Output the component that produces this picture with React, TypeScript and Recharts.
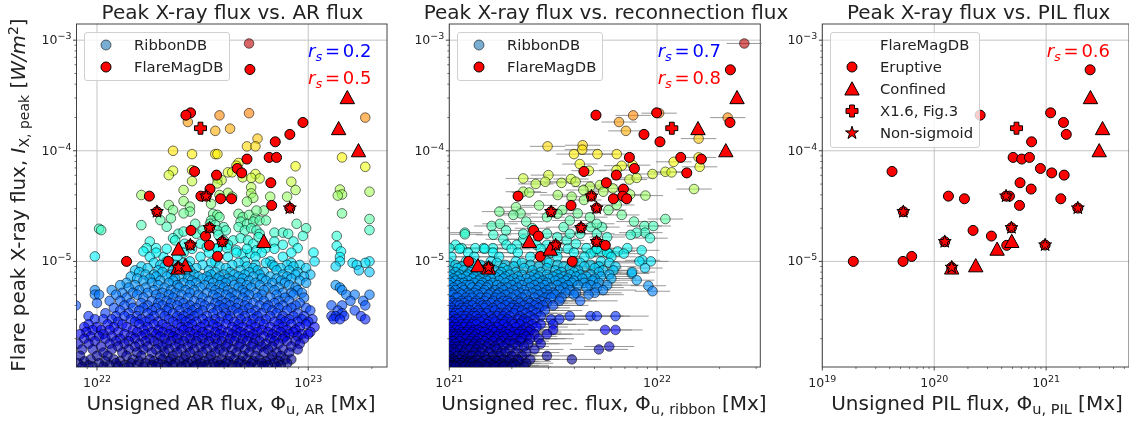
import React from "react";
import { ScatterChart, Scatter, XAxis, YAxis, CartesianGrid, ErrorBar, Legend } from "recharts";

// ---- Values. Fluxes are log10 values; rows are GOES-class rows.
type Pair = [number, number];
type Row = [number, number[]]; // [peak flux in 1e-6 W/m2, log10-flux offsets in hundredths]
type RibRow = [number, number, number[]]; // [peak in 1e-6, half error width in dex, offsets]

const arUpper: Pair[] = [
  [22.72,-3.03],[22.72,-3.66],[22.58,-3.68],[22.43,-3.74],[22.56,-3.82],[22.63,-3.80],[22.76,-3.89],[22.71,-3.96],[22.75,-3.96],[22.36,-4.0],[22.45,-4.03],[22.56,-4.03],[22.57,-4.03],[23.27,-3.70],[23.16,-4.06],[23.27,-4.145],[22.94,-4.14],[22.67,-4.11],[22.66,-4.135],[22.36,-4.18],[22.34,-4.22],[22.45,-4.175],[22.62,-4.195],[22.64,-4.195],[22.75,-4.21],[22.77,-4.25],[22.69,-4.24],[22.73,-4.245],[22.57,-4.25],[22.59,-4.265],[22.57,-4.295],[22.45,-4.275],[22.41,-4.355],[22.92,-4.28],[22.94,-4.355],[22.73,-4.33],[22.73,-4.385],[22.74,-4.425],[22.82,-4.415],[22.90,-4.415],[22.62,-4.38],[22.64,-4.415],[22.58,-4.40],[22.21,-4.40],[22.54,-4.48],[22.41,-4.455],[22.71,-4.46],[23.15,-4.35],[23.16,-4.395],[23.14,-4.405],[23.29,-4.37],[23.16,-4.566],[23.29,-4.617],[23.29,-4.717],[22.34,-4.49],[22.44,-4.505],[22.36,-4.536],[22.44,-4.55],[22.41,-4.566],[22.35,-4.61],[22.30,-4.627],[22.33,-4.687],[22.21,-4.672],[22.01,-4.705],[22.02,-4.717],[21.99,-4.955],
];
const arMiddle: Pair[] = [
  [22.55,-4.57],[22.57,-4.58],[22.54,-4.63],[22.58,-4.60],[22.535,-4.66],[22.56,-4.67],[22.60,-4.69],[22.57,-4.72],[22.61,-4.72],[22.67,-4.57],[22.69,-4.60],[22.72,-4.58],[22.75,-4.61],[22.79,-4.54],[22.755,-4.54],[22.68,-4.64],[22.71,-4.66],[22.74,-4.64],[22.77,-4.63],[22.80,-4.63],[22.67,-4.69],[22.70,-4.72],[22.73,-4.70],[22.755,-4.72],[22.77,-4.75],[22.84,-4.74],[22.88,-4.74],[22.905,-4.75],[22.945,-4.66],[22.99,-4.70],[22.975,-4.77],[22.93,-4.82],[22.95,-4.88],[22.84,-4.82],[22.88,-4.85],[22.385,-4.75],[22.41,-4.73],[22.36,-4.79],[22.37,-4.81],[22.415,-4.84],[22.47,-4.75],[22.465,-4.66],[22.50,-4.72],[22.49,-4.84],[22.52,-4.87],[22.25,-4.82],[22.235,-4.88],[22.22,-4.91],[22.28,-4.88],[22.315,-4.96],[22.645,-4.81],[22.68,-4.79],[22.715,-4.81],[22.74,-4.84],[22.765,-4.78],[22.80,-4.88],[22.62,-4.85],[22.57,-4.88],[22.60,-4.81],[22.575,-4.76],[22.615,-4.88],[22.66,-4.90],[22.69,-4.93],[22.725,-4.93],[22.755,-4.90],[23.135,-4.77],[23.135,-4.86],[23.155,-4.91],[23.15,-4.96],[23.025,-4.92],[23.03,-5.0],
];
const arRowsCyan: Row[] = [
  [13,[33,45,57,71,84]],
  [12,[28,41,53,66,78,92]],
  [11,[25,38,49,62,75,88]],
  [10,[33,44,56,70,82,115,129]],
  [9.7,[27,41,54,67,80,92,121,127]],
  [9.3,[30,37,50,64,75,83,90,96,123]],
  [9,[21,32,43,58,71,84,93,113]],
  [8.7,[24,47,61,74,87,99]],
  [8.3,[18,29,36,44,53,68,76,85,91,124]],
  [8,[20,31,42,56,63,72,79,95,129]],
];
const arRowsAzure: Row[] = [
  [7.6,[23,27,35,46,54,60,65,70,77,88,94,101]],
  [7.3,[16,28,33,40,48,52,58,67,74,82,90,98]],
  [7,[19,25,37,43,50,57,62,69,78,85,92]],
  [6.7,[22,30,36,45,53,59,64,72,80,87,96]],
  [6.4,[14,26,34,41,47,55,61,68,75,83,89,99]],
  [6.1,[11,18,29,38,44,51,58,65,71,77,91,113]],
  [5.8,[15,23,32,39,49,54,60,67,73,81,86,94,115]],
  [5.5,[-1,7,20,27,35,42,46,56,62,69,79,84,95,116]],
  [5.2,[12,17,24,31,37,44,52,58,64,70,75,88,92,97]],
  [5,[-1,1,9,19,28,34,40,48,55,61,66,72,78,85,93,118,122,129]],
  [4.7,[14,22,30,36,43,50,57,63,69,76,82,89,98]],
  [4.4,[6,11,26,33,39,46,53,59,65,71,79,86,91,120,126]],
  [4.2,[0,16,21,29,35,41,49,56,61,67,74,84,96]],
  [4,[-10,13,24,31,38,44,51,58,63,70,77,81,88,94,111,116,127]],
];
const arRowsBlue: Row[] = [
  [3.8,[8,17,22,28,34,42,47,54,60,66,72,80,86,92,99]],
  [3.6,[11,20,26,33,39,45,50,57,64,69,75,83,90,101,114,122]],
  [3.4,[4,15,24,30,36,43,48,55,61,67,73,78,85,95,116]],
  [3.2,[-4,9,13,19,27,32,38,41,46,52,59,63,70,76,82,88,93,98,111,113,117,125]],
  [3,[-1,3,7,16,21,25,34,40,44,50,56,62,68,74,80,87,91,97,102,112,115,127]],
  [2.85,[10,18,23,29,36,42,47,53,58,65,71,77,84,89,95,100]],
  [2.7,[-4,5,12,20,27,31,38,45,51,55,61,67,73,79,86,92,99]],
  [2.55,[-6,0,8,14,24,33,40,43,49,57,64,69,75,82,88,96,103]],
  [2.4,[-2,2,6,17,22,29,35,41,47,53,59,66,72,78,85,90,94]],
  [2.3,[-5,10,19,26,31,37,44,50,56,62,68,76,81,87,93,101]],
  [2.2,[-8,3,13,23,28,34,39,46,52,58,64,70,74,83,91,97,100]],
];
const arRowsNavy: Row[] = [
  [2.1,[-3,1,7,16,21,30,36,42,48,54,60,66,72,79,85,89,95]],
  [2,[-6,4,11,18,25,32,38,44,50,56,63,69,75,82,88,98]],
  [1.9,[-1,9,15,23,27,35,41,47,53,59,65,71,77,84,90,94]],
  [1.8,[-9,-4,6,13,20,29,33,39,45,51,57,62,68,74,80,86,96]],
  [1.7,[2,10,18,24,31,37,43,49,55,61,67,73,78,83,92]],
  [1.6,[-7,-2,7,15,22,28,34,40,46,52,58,64,70,76,81,88,95]],
  [1.5,[3,12,19,26,32,38,44,50,56,60,66,72,79,85,91]],
  [1.4,[-8,0,5,14,21,30,36,42,48,54,63,69,75,83,87]],
  [1.3,[-3,8,17,25,31,35,41,47,53,59,65,71,77,82,89,92]],
  [1.25,[-6,4,11,20,27,34,39,45,51,57,62,68,74,80,86]],
  [1.2,[-9,1,9,16,23,29,37,43,49,55,61,67,73,78,84,90]],
  [1.15,[-4,6,13,19,26,32,36,42,47,52,58,64,70,76,81,87]],
  [1.12,[-7,-2,3,10,15,22,28,33,40,46,50,56,60,66,72,79,85]],
];

const ribUpper: Pair[] = [
  [22.42,-3.03],[22.34,-3.70],[21.885,-3.68],[22.01,-3.66],[21.817,-3.74],[21.85,-3.82],[22.20,-3.89],[21.473,-3.96],[21.642,-3.95],[21.64,-3.99],[21.60,-4.03],[21.713,-4.03],[21.806,-4.03],[22.20,-4.06],[22.08,-4.10],[21.628,-4.12],[21.672,-4.18],[21.83,-4.135],[21.805,-4.175],[21.883,-4.13],[22.205,-4.145],[21.978,-4.21],[22.04,-4.19],[22.07,-4.195],[21.477,-4.22],[21.356,-4.25],[21.462,-4.28],[21.416,-4.30],[21.54,-4.29],[21.586,-4.255],[21.608,-4.28],[21.867,-4.26],[21.902,-4.245],[21.677,-4.325],[21.725,-4.31],[21.787,-4.34],[22.178,-4.346],[21.356,-4.37],[21.385,-4.377],[21.522,-4.40],[21.589,-4.415],[21.645,-4.355],[21.648,-4.445],[21.741,-4.37],[21.87,-4.395],[21.944,-4.405],
];
const ribMiddle: Pair[] = [
  [21.432,-4.494],[21.321,-4.51],[21.241,-4.55],[21.343,-4.566],[21.308,-4.58],[21.806,-4.49],[21.766,-4.536],[21.544,-4.536],[21.618,-4.566],[21.677,-4.60],[21.83,-4.58],[22.04,-4.617],[21.889,-4.64],[21.939,-4.68],[21.982,-4.68],[21.942,-4.74],[21.902,-4.74],[21.873,-4.76],[21.966,-4.79],[21.857,-4.88],[21.926,-4.90],[21.93,-4.99],[21.97,-5.0],[21.915,-5.0],[21.942,-5.06],[21.878,-5.11],[21.902,-5.17],[21.958,-5.22],[21.978,-5.27],[21.075,-4.74],[21.075,-4.755],[21.204,-4.68],[21.244,-4.66],[21.273,-4.72],[21.212,-4.76],
  [21.26,-4.80],[21.356,-4.80],[21.37,-4.64],[21.40,-4.70],[21.47,-4.60],[21.52,-4.57],[21.55,-4.69],[21.58,-4.63],[21.47,-4.75],[21.52,-4.78],[21.565,-4.81],[21.63,-4.75],[21.68,-4.69],[21.71,-4.75],[21.735,-4.69],[21.76,-4.78],[21.71,-4.66],[21.58,-4.75],[21.356,-4.75],[21.42,-4.85],[21.61,-4.84],[21.66,-4.88],[21.70,-4.91],[21.77,-4.93],[21.81,-4.91],[21.84,-4.93],[21.73,-4.91],[21.68,-4.93],[21.52,-4.90],[21.47,-4.85],[21.325,-4.85],[21.275,-4.85],[21.21,-4.88],[21.165,-4.88],[21.125,-4.88],[21.03,-4.85],[21.0,-4.88],[21.06,-4.88],
];
const ribRowsCyan: RibRow[] = [
  [13,0.09,[5,17,30,44,57,71]],
  [12,0.11,[9,21,33,49,60,76]],
  [11,0.12,[1,12,24,39,52,65,78]],
  [10,0.1,[8,20,32,47,60,73]],
  [9.7,0.12,[0,11,23,35,48,63,77]],
  [9.3,0.11,[3,15,27,39,52,68]],
  [9,0.1,[6,19,31,43,55,65,72,80]],
  [8.7,0.13,[4,14,26,36,47,58,70]],
  [8.3,0.12,[0,7,11,22,28,40,51,62,74,79]],
  [8,0.11,[3,10,15,25,32,44,54,60,72,88]],
];
const ribRowsAzure: RibRow[] = [
  [7.6,0.12,[1,5,9,13,19,24,29,35,41,47,52,58,63,68,77]],
  [7.3,0.14,[0,4,8,12,17,22,27,33,39,43,50,55,61,66,73]],
  [7,0.12,[2,6,11,15,20,26,31,37,42,48,53,57,64,70,78]],
  [6.7,0.13,[0,3,9,14,18,24,29,34,40,45,51,56,60,69]],
  [6.4,0.14,[1,5,7,12,16,21,27,32,38,43,47,54,59,65,72]],
  [6.1,0.15,[0,4,8,10,15,19,23,30,35,41,46,52,57,62,68,76]],
  [5.8,0.13,[2,6,11,14,18,25,28,33,39,44,49,55,66,71]],
  [5.5,0.16,[0,3,7,13,17,22,26,31,36,42,47,53,58,74]],
  [5.2,0.13,[1,5,9,12,16,20,24,29,34,40,45,50,56,61,70]],
  [5,0.17,[0,2,6,10,14,19,23,27,32,37,43,48,51,60,67]],
  [4.7,0.14,[3,4,8,11,15,18,22,25,30,35,41,46,49,54]],
  [4.4,0.18,[0,1,6,9,13,17,21,26,28,33,38,44,53,63]],
  [4.2,0.15,[2,4,7,12,15,20,24,29,34,39,42,47]],
  [4,0.17,[0,3,5,9,11,16,18,23,27,31,36,41,45,50]],
];
const ribRowsBlue: RibRow[] = [
  [3.8,0.15,[1,6,8,13,17,21,25,30,33,38,43]],
  [3.6,0.18,[0,2,4,7,10,14,19,22,28,32,35,40,46]],
  [3.4,0.15,[1,3,5,9,12,15,18,24,27,31,37,42]],
  [3.2,0.16,[0,2,6,8,11,13,16,20,23,26,29,34,39,44,58,68,71,80]],
  [3,0.18,[0,3,4,7,10,14,17,21,25,28,33,36,41,49,53]],
  [2.85,0.14,[1,2,5,9,12,15,19,22,27,30,35,38]],
  [2.7,0.17,[0,3,6,8,11,13,18,24,26,31,34,40,44,50]],
  [2.55,0.15,[1,2,4,7,10,16,20,23,28,32,37,42]],
  [2.4,0.13,[0,3,5,9,12,14,18,21,25,29,35,39,50,75,80]],
  [2.3,0.16,[1,6,8,11,15,17,22,27,31,34,38]],
  [2.2,0.18,[0,2,4,7,10,13,19,24,28,33,36,41,47]],
];
const ribRowsNavy: RibRow[] = [
  [2.1,0.15,[1,3,5,9,12,16,20,23,26,30,37]],
  [2,0.17,[0,4,6,8,11,14,18,22,27,32,35,39,43]],
  [1.9,0.14,[1,2,5,10,13,17,21,25,29,34]],
  [1.8,0.15,[0,3,7,9,12,15,19,24,28,31,38,44]],
  [1.7,0.12,[1,4,6,11,14,18,22,26,33,36,77]],
  [1.6,0.14,[0,2,5,8,10,13,16,20,23,29,41,72]],
  [1.5,0.16,[1,3,7,12,15,19,25,27,32,37]],
  [1.4,0.13,[0,4,6,9,11,14,17,21,24,30,35,47]],
  [1.3,0.14,[1,2,5,8,13,18,22,26,29,33,39,59]],
  [1.25,0.15,[0,3,7,10,12,16,20,23,28,34]],
  [1.2,0.13,[1,4,6,9,11,15,19,25,31,37]],
  [1.15,0.16,[0,2,5,8,13,17,21,24,27,32]],
  [1.12,0.13,[1,3,7,10,12,14,18,22,26,30,36]],
];
const ribUpperHalfWidth = 0.085;
const ribFluxMin = 1e21;

// FlareMagDB
const arEruptive: Pair[] = [[22.724,-3.265],[22.443,-3.657],[22.421,-3.678],[22.975,-3.744],[22.913,-3.852],[22.844,-3.919],[22.71,-4.075],[22.815,-4.06],[22.85,-4.06],[22.664,-4.16],[22.685,-4.20],[22.462,-4.187],[22.566,-4.22],[22.823,-4.289],[22.535,-4.346],[22.248,-4.41],[22.492,-4.41],[22.585,-4.434],[22.637,-4.434],[22.827,-4.494],[22.445,-4.72],[22.514,-4.771],[22.532,-4.855],[22.571,-4.955],[22.338,-5],[22.14,-5]];
const arStars: Pair[] = [[22.284,-4.551],[22.517,-4.41],[22.913,-4.518],[22.533,-4.696],[22.442,-4.852],[22.593,-4.822],[22.385,-5.054]];
const arConfined: Pair[] = [[23.185,-3.52],[23.144,-3.80],[23.238,-4.0],[22.79,-4.82],[22.386,-4.889],[22.418,-5.04],[22.383,-5.06]];
const arCase: Pair[] = [[22.49,-3.796]];

const ribEruptive: Pair[] = [[22.353,-3.268],[21.706,-3.678],[21.998,-3.657],[22.351,-3.744],[21.937,-3.852],[22.014,-3.919],[22.114,-4.06],[22.213,-4.075],[21.867,-4.06],[21.891,-4.16],[21.648,-4.187],[21.804,-4.22],[22.143,-4.20],[21.756,-4.289],[21.838,-4.346],[21.79,-4.434],[21.835,-4.41],[21.854,-4.434],[21.331,-4.41],[21.586,-4.494],[21.406,-4.72],[21.429,-4.771],[21.751,-4.855],[21.438,-4.955],[21.093,-5],[21.592,-5]];
const ribStars: Pair[] = [[21.49,-4.551],[21.684,-4.41],[21.709,-4.518],[21.634,-4.696],[21.512,-4.852],[21.709,-4.822],[21.189,-5.054]];
const ribConfined: Pair[] = [[22.385,-3.52],[22.197,-3.80],[22.331,-4.0],[21.385,-4.82],[21.486,-4.89],[21.138,-5.04],[21.189,-5.06]];
const ribCase: Pair[] = [[22.071,-3.796]];

const pilEruptive: Pair[] = [[21.393,-3.268],[20.41,-3.678],[21.04,-3.657],[21.155,-3.744],[21.18,-3.852],[20.87,-3.919],[20.705,-4.06],[20.782,-4.075],[20.851,-4.06],[20.949,-4.16],[21.05,-4.20],[21.161,-4.22],[19.623,-4.187],[20.767,-4.289],[20.866,-4.346],[20.127,-4.41],[20.27,-4.434],[20.672,-4.41],[20.762,-4.494],[21.131,-4.434],[20.347,-4.72],[20.511,-4.771],[20.648,-4.855],[19.799,-4.955],[19.721,-5],[19.277,-5]];
const pilStars: Pair[] = [[19.724,-4.551],[20.642,-4.41],[21.283,-4.518],[20.69,-4.696],[20.991,-4.852],[20.094,-4.822],[20.156,-5.054]];
const pilConfined: Pair[] = [[21.396,-3.52],[21.504,-3.80],[21.474,-4.0],[20.693,-4.82],[20.562,-4.89],[20.371,-5.04],[20.156,-5.06]];
const pilCase: Pair[] = [[20.735,-3.796]];

const yMajor = [1e-3, 1e-4, 1e-5];
const yMinor = [2e-6,3e-6,4e-6,5e-6,6e-6,7e-6,8e-6,9e-6,2e-5,3e-5,4e-5,5e-5,6e-5,7e-5,8e-5,9e-5,2e-4,3e-4,4e-4,5e-4,6e-4,7e-4,8e-4,9e-4];
const arMajor = [1e22, 1e23];
const arMinor = [9e21,2e22,3e22,4e22,5e22,6e22,7e22,8e22,9e22,2e23];
const ribMajor = [1e21, 1e22];
const ribMinor = [2e21,3e21,4e21,5e21,6e21,7e21,8e21,9e21,2e22,3e22];
const pilMajor = [1e19, 1e20, 1e21];
const pilMinor = [2e19,3e19,4e19,5e19,6e19,7e19,8e19,9e19,2e20,3e20,4e20,5e20,6e20,7e20,8e20,9e20,2e21,3e21,4e21,5e21];

// ---- Tables built from the arrays
const toPoints = (p: Pair[]) => p.map(([a, b]) => ({ flux: 10 ** a, peak: 10 ** b }));
const rowPoints = (rows: Row[], base: number) =>
  rows.flatMap(([y, xs]) => xs.map((o) => ({ flux: 10 ** (base + o / 100), peak: y * 1e-6 })));
const withErr = (flux: number, peak: number, e: number) => ({
  flux, peak, xErr: [Math.min(flux - flux * 10 ** -e, flux - ribFluxMin), flux * 10 ** e - flux],
});
const arAll = [...toPoints(arUpper), ...toPoints(arMiddle), ...rowPoints(arRowsCyan, 22), ...rowPoints(arRowsAzure, 22), ...rowPoints(arRowsBlue, 22), ...rowPoints(arRowsNavy, 22)];
const ribAll = [
  ...[...ribUpper, ...ribMiddle].map(([a, b]) => withErr(10 ** a, 10 ** b, ribUpperHalfWidth)),
  ...[...ribRowsCyan, ...ribRowsAzure, ...ribRowsBlue, ...ribRowsNavy].flatMap(([y, e, xs]) => xs.map((o) => withErr(10 ** (21 + o / 100), y * 1e-6, e))),
];

// ---- Drawing helpers
const clamp = (v: number) => Math.max(0, Math.min(1, v));
const jet = (v: number) => {
  const c = (k: number) => Math.round(255 * clamp(1.5 - Math.abs(4 * v - k)));
  return `rgb(${c(3)},${c(2)},${c(1)})`;
};
const peakColor = (peak: number) => {
  const d = Math.log10(peak) + 5;
  return jet(0.35 + (d >= 0 ? 0.3 : 0.37) * d);
};

const FONT = "'DejaVu Sans', sans-serif";
const NoMark = () => <g />;
const DbDot = (p: any) => (
  <circle cx={p.cx} cy={p.cy} r={4.8} fill={peakColor(p.payload.peak)} fillOpacity={0.6} stroke="#000" strokeOpacity={0.55} strokeWidth={1} />
);
const RedDot = (p: any) => <circle cx={p.cx} cy={p.cy} r={5} fill="#f00" stroke="#000" strokeWidth={1} />;
const RedTriangle = (p: any) => (
  <path d={`M${p.cx} ${p.cy - 7.2}L${p.cx + 7.2} ${p.cy + 6}L${p.cx - 7.2} ${p.cy + 6}Z`} fill="#f00" stroke="#000" strokeWidth={1} strokeLinejoin="miter" />
);
const RedPlus = (p: any) => {
  const a = 2.4, b = 6;
  const { cx: x, cy: y } = p;
  return (
    <path d={`M${x - a} ${y - b}H${x + a}V${y - a}H${x + b}V${y + a}H${x + a}V${y + b}H${x - a}V${y + a}H${x - b}V${y - a}H${x - a}Z`} fill="#f00" stroke="#000" strokeWidth={1} />
  );
};
const starPath = (x: number, y: number, R: number) => {
  let d = "";
  for (let i = 0; i < 10; i++) {
    const r = i % 2 ? R * 0.38 : R;
    const t = -Math.PI / 2 + (i * Math.PI) / 5;
    d += `${i ? "L" : "M"}${(x + r * Math.cos(t)).toFixed(2)} ${(y + r * Math.sin(t)).toFixed(2)}`;
  }
  return d + "Z";
};
const RedStar = (p: any) => <path d={starPath(p.cx, p.cy, 6.8)} fill="#f00" stroke="#000" strokeWidth={1} />;

const Sup = ({ value, x, y, anchor }: { value: number; x: number; y: number; anchor: "middle" | "end" }) => {
  const exp = Math.round(Math.log10(value));
  return (
    <text x={x} y={y} textAnchor={anchor} fontFamily={FONT} fontSize={12.5} fill="#222">
      10<tspan dy={-5} fontSize={9.5}>{exp < 0 ? `\u2212${-exp}` : exp}</tspan>
    </text>
  );
};
const isMajor = (v: number, majors: number[]) => majors.some((m) => Math.abs(m - v) / m < 1e-6);
const XTick = (majors: number[]) => (p: any) => {
  const major = isMajor(p.payload.value, majors);
  return (
    <g>
      <line x1={p.x} x2={p.x} y1={p.y} y2={p.y + (major ? 3.5 : 2)} stroke="#333" strokeWidth={major ? 0.9 : 0.7} />
      {major && <Sup value={p.payload.value} x={p.x} y={p.y + 20} anchor="middle" />}
    </g>
  );
};
const YTick = (p: any) => {
  const major = isMajor(p.payload.value, yMajor);
  return (
    <g>
      <line x1={p.x - (major ? 3.5 : 2)} x2={p.x} y1={p.y} y2={p.y} stroke="#333" strokeWidth={major ? 0.9 : 0.7} />
      {major && <Sup value={p.payload.value} x={p.x - 5} y={p.y + 4} anchor="end" />}
    </g>
  );
};

type LegendRow = { label: string; mark: React.ReactNode };
const legendMark = (Shape: any) => (
  <svg width={18} height={18} style={{ display: "block" }}>
    <Shape cx={9} cy={9} payload={{ peak: 1e-5 }} />
  </svg>
);
const BlueDot = () => <circle cx={9} cy={9} r={5} fill="#1f77b4" fillOpacity={0.6} stroke="#000" strokeOpacity={0.55} />;
const ribbonLegend: LegendRow[] = [
  { label: "RibbonDB", mark: legendMark(BlueDot) },
  { label: "FlareMagDB", mark: legendMark(RedDot) },
];
const pilLegend: LegendRow[] = [
  { label: "FlareMagDB", mark: null },
  { label: "Eruptive", mark: legendMark(RedDot) },
  { label: "Confined", mark: legendMark(RedTriangle) },
  { label: "X1.6, Fig.3", mark: legendMark(RedPlus) },
  { label: "Non-sigmoid", mark: legendMark(RedStar) },
];
const LegendBox = ({ rows, width, textLeft, markLeft }: { rows: LegendRow[]; width: number; textLeft: number; markLeft: number }) => (
  <div
    style={{
      position: "relative", width, height: 4 + rows.length * 22.2 + 1.5, boxSizing: "border-box",
      background: "rgba(255,255,255,0.8)", border: "1px solid #d0d0d0", borderRadius: 3, fontFamily: FONT, fontSize: 14.8, color: "#222",
    }}
  >
    {rows.map((r, i) => (
      <div key={r.label} style={{ position: "absolute", left: 0, top: 1 + i * 22.2, height: 22, width: "100%" }}>
        <div style={{ position: "absolute", left: markLeft - 9, top: 2 }}>{r.mark}</div>
        <span style={{ position: "absolute", left: textLeft, top: 2, lineHeight: "18px", whiteSpace: "nowrap" }}>{r.label}</span>
      </div>
    ))}
  </div>
);

const PLOT_TOP = 24;
const PLOT_BOTTOM = 367;
const HEIGHT = 423;

type PanelProps = {
  left: number; width: number; plotLeft: number; plotRight: number;
  xDomain: [number, number]; xMajor: number[]; xMinor: number[];
  title: string; titleX: number; sub: string; labelName: string; labelX: number;
  legendRows: LegendRow[]; legendLeft: number; legendWidth: number; legendText: number; legendMarkX: number;
  stats: { text: string; color: string; x: number; y: number }[];
  db?: any[]; errors?: boolean;
  eruptive: Pair[]; stars: Pair[]; confined: Pair[]; flareCase: Pair[];
  yLabel?: boolean;
};

const Panel = (p: PanelProps) => (
  <div style={{ position: "absolute", left: p.left, top: 0, width: p.width, height: HEIGHT }}>
    <ScatterChart
      width={p.width}
      height={HEIGHT}
      margin={{ top: PLOT_TOP, right: p.left + p.width - p.plotRight, bottom: 0, left: 0 }}
      style={{ overflow: "visible" }}
    >
      <CartesianGrid stroke="#c4c4c4" strokeWidth={1} verticalValues={p.xMajor} horizontalValues={yMajor} />
      <XAxis
        type="number" dataKey="flux" scale="log" domain={p.xDomain} allowDataOverflow
        ticks={[...p.xMajor, ...p.xMinor]} interval={0} height={HEIGHT - PLOT_BOTTOM}
        tickSize={0} tickMargin={0} tickLine={false} axisLine={false} tick={XTick(p.xMajor)}
      />
      <YAxis
        type="number" dataKey="peak" scale="log" domain={[1.11e-6, 1.4e-3]} allowDataOverflow
        ticks={[...yMajor, ...yMinor]} interval={0} width={p.plotLeft - p.left}
        tickSize={0} tickMargin={0} tickLine={false} axisLine={false} tick={YTick}
      />
      {p.errors && (
        <Scatter name="RibbonDB errors" data={p.db} shape={NoMark} isAnimationActive={false}>
          <ErrorBar dataKey="xErr" direction="x" width={0} stroke="#777" strokeWidth={1} strokeOpacity={0.75} />
        </Scatter>
      )}
      {p.db && <Scatter name="RibbonDB" data={p.db} shape={DbDot} isAnimationActive={false} />}
      <Scatter name="Eruptive" data={toPoints(p.eruptive)} shape={RedDot} isAnimationActive={false} />
      <Scatter name="Non-sigmoid base" data={toPoints(p.stars)} shape={RedDot} isAnimationActive={false} />
      <Scatter name="Confined" data={toPoints(p.confined)} shape={RedTriangle} isAnimationActive={false} />
      <Scatter name="X1.6, Fig.3" data={toPoints(p.flareCase)} shape={RedPlus} isAnimationActive={false} />
      <Scatter name="Non-sigmoid" data={toPoints(p.stars)} shape={RedStar} isAnimationActive={false} />
      <Legend
        layout="horizontal" verticalAlign="middle" align="center"
        wrapperStyle={{ position: "absolute", left: p.legendLeft - p.left, top: 31.5, width: p.legendWidth, height: "auto", bottom: "auto" }}
        content={() => <LegendBox rows={p.legendRows} width={p.legendWidth} textLeft={p.legendText - p.legendLeft} markLeft={p.legendMarkX - p.legendLeft} />}
      />
      <g transform={`translate(${-p.left},0)`} fontFamily={FONT} fill="#222">
        <rect x={p.plotLeft} y={PLOT_TOP} width={p.plotRight - p.plotLeft} height={PLOT_BOTTOM - PLOT_TOP} fill="none" stroke="#444" strokeWidth={1} />
        <text x={p.titleX} y={18.6} textAnchor="middle" fontSize={20}>{p.title}</text>
        <text x={p.labelX} y={410} textAnchor="middle" fontSize={20}>
          {p.labelName}, Φ<tspan dy={4} fontSize={14.5}>{p.sub}</tspan><tspan dy={-4}> [Mx]</tspan>
        </text>
        {p.stats.map((s) => (
          <text key={s.text + s.y} x={s.x} y={s.y} fontSize={18} fill={s.color} wordSpacing={-3}>
            <tspan fontStyle="italic">r</tspan><tspan fontStyle="italic" dy={4} fontSize={13}>s</tspan><tspan dy={-4}> = {s.text}</tspan>
          </text>
        ))}
        {p.yLabel && (
          <text transform="rotate(-90) translate(-195,25)" textAnchor="middle" fontSize={19.9}>
            Flare peak X-ray flux, <tspan fontStyle="italic">I</tspan><tspan dy={4} fontSize={14}>X, peak</tspan><tspan dy={-4}> [</tspan><tspan fontStyle="italic">W/m</tspan><tspan dy={-7} fontSize={14}>2</tspan><tspan dy={7}>]</tspan>
          </text>
        )}
      </g>
    </ScatterChart>
  </div>
);

export default function App() {
  return (
    <div style={{ position: "absolute", left: 0, top: 0, width: 1129, height: HEIGHT, overflow: "hidden", background: "#fff", filter: "blur(0.35px)" }}>
      <Panel
        left={0} width={395} plotLeft={76.5} plotRight={387}
        xDomain={[8e21, 2.36e23]} xMajor={arMajor} xMinor={arMinor}
        title="Peak X-ray flux vs. AR flux" titleX={232.5} labelName="Unsigned AR flux" sub="u, AR" labelX={231}
        legendRows={ribbonLegend} legendLeft={84.3} legendWidth={146} legendText={133} legendMarkX={105.5}
        stats={[{ text: "0.2", color: "#0000ff", x: 308, y: 57 }, { text: "0.5", color: "#ff0000", x: 308, y: 84 }]}
        db={arAll} eruptive={arEruptive} stars={arStars} confined={arConfined} flareCase={arCase} yLabel
      />
      <Panel
        left={395} width={410} plotLeft={449.3} plotRight={760.3}
        xDomain={[1e21, 3.14e22]} xMajor={ribMajor} xMinor={ribMinor}
        title="Peak X-ray flux vs. reconnection flux" titleX={606} labelName="Unsigned rec. flux" sub="u, ribbon" labelX={604}
        legendRows={ribbonLegend} legendLeft={457.3} legendWidth={146} legendText={506} legendMarkX={478.3}
        stats={[{ text: "0.7", color: "#0000ff", x: 657.7, y: 57 }, { text: "0.8", color: "#ff0000", x: 657.7, y: 84 }]}
        db={ribAll} errors eruptive={ribEruptive} stars={ribStars} confined={ribConfined} flareCase={ribCase}
      />
      <Panel
        left={767} width={362} plotLeft={822.3} plotRight={1129}
        xDomain={[1e19, 5.5e21]} xMajor={pilMajor} xMinor={pilMinor}
        title="Peak X-ray flux vs. PIL flux" titleX={978.7} labelName="Unsigned PIL flux" sub="u, PIL" labelX={977}
        legendRows={pilLegend} legendLeft={830} legendWidth={149.5} legendText={879} legendMarkX={851}
        stats={[{ text: "0.6", color: "#ff0000", x: 1046.7, y: 57 }]}
        eruptive={pilEruptive} stars={pilStars} confined={pilConfined} flareCase={pilCase}
      />
    </div>
  );
}
